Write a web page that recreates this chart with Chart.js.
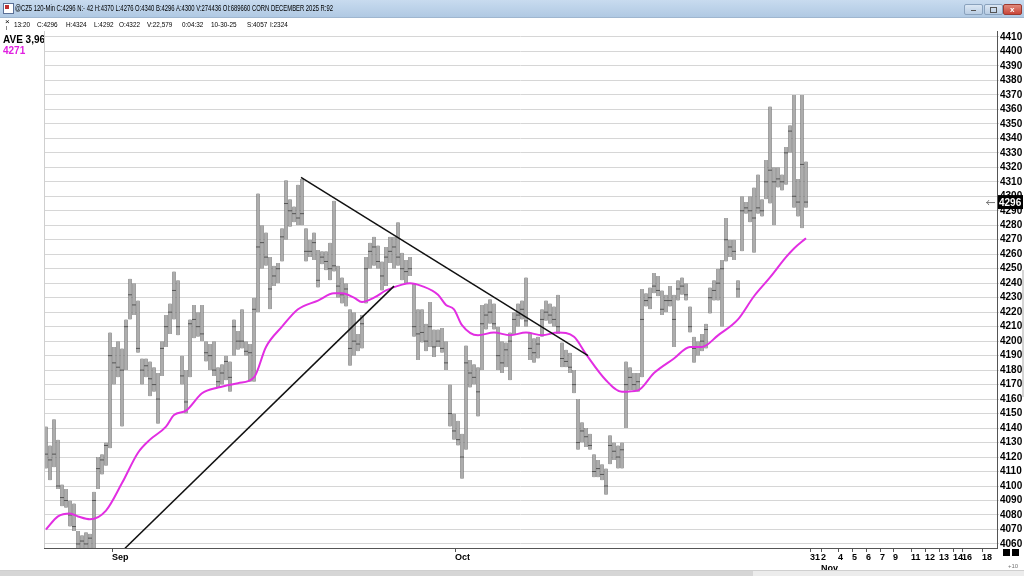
<!DOCTYPE html>
<html>
<head>
<meta charset="utf-8">
<script src="https://cdn.jsdelivr.net/npm/chart.js@4"></script>
<style>
  body { margin:0; width:1024px; height:576px; position:relative; overflow:hidden; background:#fff;
         font-family:"Liberation Sans", Arial, sans-serif; }
  #chart { position:absolute; left:0; top:0; }
  .abs { position:absolute; white-space:pre; }
  #titlebar { left:0; top:0; width:1024px; height:17px; background:linear-gradient(#c8dbef,#b0c9e3); border-bottom:1px solid #9fb6cf; }
  #titletext { left:15px; top:3px; font-size:8.5px; color:#000; transform-origin:left top; display:inline-block; }
  .btn { top:4px; width:17px; height:9px; border:1px solid #8aa2bd; border-radius:2px; background:linear-gradient(#dbe7f4,#b9cde3); }
  .info { top:20px; font-size:8px; color:#000; transform:scaleX(0.8); transform-origin:left top; }
  #leftpanel { left:3px; top:34px; font-weight:bold; font-size:10px; line-height:11px; }
</style>
</head>
<body>
<canvas id="chart" width="1024" height="576"></canvas>

<div id="titlebar" class="abs">
  <div class="abs" style="left:3px;top:3px;width:9px;height:9px;background:#fff;border:1px solid #5a6f96;"></div>
  <div class="abs" style="left:5px;top:5px;width:4px;height:4px;background:#c03030;"></div>
  <span id="titletext" class="abs">@CZ5 120-Min C:4296 N:- 42 H:4370 L:4276 O:4340 B:4296 A:4300 V:274436 OI:689660 CORN DECEMBER 2025 R:92</span>
  <div class="abs btn" style="left:964px;"><div class="abs" style="left:6px;top:5px;width:5px;height:1px;background:#555;"></div></div>
  <div class="abs btn" style="left:984px;"><div class="abs" style="left:5px;top:2px;width:5px;height:4px;border:1px solid #555;"></div></div>
  <div class="abs btn" style="left:1003px;background:linear-gradient(#e08a7c,#c9463a);border-color:#9c3a30;"><div class="abs" style="left:6px;top:0px;font-size:8px;color:#fff;font-weight:bold;">x</div></div>
</div>

<div class="abs" style="left:5px;top:17px;font-size:8px;">×</div>
<div class="abs" style="left:6px;top:26px;width:1px;height:4px;background:#888;"></div>
<div class="abs info" style="left:14px;">13:20</div>
<div class="abs info" style="left:37px;">C:4296</div>
<div class="abs info" style="left:66px;">H:4324</div>
<div class="abs info" style="left:94px;">L:4292</div>
<div class="abs info" style="left:119px;">O:4322</div>
<div class="abs info" style="left:147px;">V:22,579</div>
<div class="abs info" style="left:182px;">0:04:32</div>
<div class="abs info" style="left:211px;">10-30-25</div>
<div class="abs info" style="left:247px;">S:4057</div>
<div class="abs info" style="left:270px;">I:2324</div>

<div id="leftpanel" class="abs"><span style="color:#000">AVE 3,96</span>
<span style="color:#e020e0">4271</span></div>

<div class="abs" style="left:44px;top:31px;width:1px;height:517px;background:#cfcfcf;"></div>
<div class="abs" style="left:1022px;top:270px;width:2px;height:127px;background:#d4d4d4;"></div>
<div class="abs" style="left:1003px;top:549px;width:7px;height:7px;background:#000;"></div>
<div class="abs" style="left:1012px;top:549px;width:7px;height:7px;background:#000;"></div>
<div class="abs" style="left:1008px;top:563px;font-size:6px;color:#777;">+10</div>
<div class="abs" style="left:0;top:570px;width:1024px;height:6px;background:#ececec;border-top:1px solid #cfcfcf;"></div>
<div class="abs" style="left:0;top:571px;width:753px;height:5px;background:#d6d6d6;"></div>

<script>
// ==== Data (120-min bars, CZ5) ====
const highs = [4141,4128,4146,4132,4101,4098,4090,4088,4069,4066,
  4068,4067,4096,4120,4122,4130,4206,4196,4200,4195,
  4215,4243,4240,4228,4188,4188,4186,4182,4178,4200,
  4218,4226,4248,4242,4190,4180,4215,4225,4220,4225,
  4200,4198,4200,4182,4184,4190,4186,4215,4207,4222,
  4200,4198,4230,4302,4280,4275,4258,4252,4254,4278,
  4311,4298,4293,4308,4312,4278,4270,4275,4263,4262,
  4262,4268,4297,4252,4244,4240,4222,4220,4205,4218,
  4258,4268,4272,4266,4255,4265,4272,4272,4282,4261,
  4256,4258,4240,4222,4222,4212,4227,4208,4208,4209,
  4200,4170,4150,4145,4136,4197,4187,4184,4182,4225,
  4226,4229,4226,4210,4200,4199,4206,4220,4226,4228,
  4244,4206,4202,4203,4222,4228,4226,4224,4232,4199,
  4194,4192,4180,4160,4144,4140,4136,4122,4118,4115,
  4112,4135,4130,4128,4130,4186,4182,4178,4178,4236,
  4233,4237,4247,4245,4235,4232,4238,4232,4242,4244,
  4240,4224,4203,4200,4205,4212,4237,4242,4250,4256,
  4285,4270,4270,4242,4300,4296,4300,4306,4315,4298,
  4325,4362,4320,4320,4315,4334,4349,4370,4312,4370,
  4324];
const lows = [4112,4104,4113,4098,4086,4085,4072,4069,4055,4055,
  4055,4055,4056,4098,4108,4114,4126,4170,4175,4141,
  4180,4215,4218,4192,4170,4175,4162,4165,4143,4176,
  4196,4205,4215,4204,4170,4150,4175,4202,4203,4200,
  4186,4180,4176,4168,4170,4173,4165,4190,4194,4195,
  4190,4172,4172,4220,4250,4252,4222,4238,4240,4255,
  4270,4279,4282,4280,4280,4255,4258,4256,4237,4253,
  4249,4242,4248,4230,4226,4224,4183,4190,4193,4195,
  4226,4250,4252,4250,4235,4238,4254,4250,4252,4242,
  4240,4245,4203,4187,4199,4193,4196,4189,4196,4192,
  4180,4141,4132,4128,4105,4125,4168,4170,4148,4180,
  4208,4212,4208,4180,4178,4182,4173,4205,4210,4215,
  4210,4187,4185,4188,4203,4214,4212,4210,4205,4182,
  4182,4178,4164,4125,4130,4127,4125,4106,4106,4104,
  4094,4115,4118,4112,4112,4140,4166,4166,4165,4175,
  4224,4222,4233,4231,4218,4220,4224,4196,4228,4232,
  4228,4206,4185,4190,4193,4195,4219,4228,4228,4210,
  4255,4258,4256,4230,4262,4288,4282,4261,4288,4286,
  4298,4295,4280,4306,4304,4308,4330,4292,4286,4278,
  4292];
const closes = [4122,4118,4122,4100,4092,4090,4080,4072,4060,4062,
  4060,4064,4090,4112,4118,4128,4190,4185,4182,4180,
  4210,4232,4225,4195,4180,4183,4174,4170,4160,4195,
  4210,4220,4235,4210,4176,4158,4212,4215,4210,4205,
  4192,4190,4180,4172,4178,4186,4175,4210,4200,4200,
  4193,4192,4222,4265,4268,4258,4236,4245,4250,4272,
  4295,4290,4288,4285,4288,4262,4262,4268,4242,4258,
  4255,4250,4252,4238,4232,4236,4195,4200,4198,4212,
  4250,4262,4265,4255,4245,4258,4262,4265,4258,4250,
  4248,4250,4210,4205,4206,4200,4210,4196,4200,4195,
  4185,4150,4138,4132,4120,4185,4178,4175,4165,4212,
  4218,4220,4212,4190,4185,4194,4200,4215,4218,4222,
  4214,4195,4192,4198,4215,4220,4218,4215,4210,4188,
  4186,4182,4170,4130,4138,4134,4128,4110,4112,4108,
  4100,4128,4124,4120,4125,4170,4175,4170,4172,4215,
  4228,4230,4238,4235,4222,4228,4228,4215,4236,4238,
  4232,4210,4195,4196,4200,4208,4230,4235,4240,4250,
  4270,4265,4262,4236,4290,4292,4290,4285,4292,4290,
  4310,4318,4310,4312,4310,4330,4345,4300,4296,4322,
  4296];

// moving average (AVE), read at selected bars
const maBars = [0,3,6,8,11,15,19,23,26,30,32,35,39,43,48,52,55,59,63,68,72,74,77,79,82,85,89,91,94,98,
  100,102,104,108,112,116,120,124,128,132,135,140,144,148,152,157,161,164,168,173,177,181,185,187,190];
const maValues = [4070,4079,4081,4079,4077,4083,4102,4123,4132,4141,4149,4152,4164,4168,4171,4175,4196,4210,4222,4228,
  4233,4233,4230,4227,4230,4235,4239,4240,4238,4232,4225,4222,4211,4204,4206,4204,4206,4204,4206,4203,
  4191,4173,4165,4166,4178,4188,4196,4196,4204,4215,4231,4244,4258,4264,4271];

// trend lines: [bar, price] pairs
const downTrendBars = [63.75, 135.5];
const downTrendPrices = [4313, 4190];
const upTrendBars = [19.75, 87];
const upTrendPrices = [4057, 4238];

// axes
const xTickBars = [16.5, 102.25, 191, 193.75, 198, 201.5, 205, 208.5, 211.75, 216.25, 219.75, 223.25, 226.75, 229, 234];
const xTickLabels = ['Sep','Oct','31',['2','Nov'],'4','5','6','7','9','11','12','13','14','16','18'];
const yTickValues = [];
for (let v = 4060; v <= 4410; v += 10) yTickValues.push(v);
const slots = 238.25;
const lastPrice = closes[closes.length - 1];

// ==== Chart ====
const barData = highs.map((h, i) => ({ x: i + 0.5, y: [lows[i], h] }));
const closeData = closes.map((c, i) => ({ x: i + 0.5, y: c }));
const maData = maBars.map((b, i) => ({ x: b + 0.5, y: maValues[i] }));

const priceBox = {
  id: 'priceBox',
  afterDraw(chart) {
    const c = chart.ctx, a = chart.chartArea;
    const y = chart.scales.y.getPixelForValue(lastPrice);
    c.save();
    c.strokeStyle = '#777'; c.lineWidth = 1;
    c.beginPath(); c.moveTo(a.right - 11, y + 0.5); c.lineTo(a.right - 2, y + 0.5); c.stroke();
    c.beginPath(); c.moveTo(a.right - 8, y - 2); c.lineTo(a.right - 10, y + 0.5); c.lineTo(a.right - 8, y + 3); c.stroke();
    c.fillStyle = '#000';
    c.fillRect(a.right + 1, y - 7, 25, 14);
    c.fillStyle = '#fff';
    c.font = 'bold 10px "Liberation Sans", Arial';
    c.textBaseline = 'middle';
    c.fillText(String(lastPrice), a.right + 2, y + 1);
    c.restore();
  }
};

new Chart(document.getElementById('chart'), {
  type: 'bar',
  data: {
    datasets: [
      { type: 'line', data: downTrendBars.map((b, i) => ({ x: b + 0.5, y: downTrendPrices[i] })),
        borderColor: '#111', borderWidth: 1.5, pointRadius: 0, order: 0 },
      { type: 'line', data: upTrendBars.map((b, i) => ({ x: b + 0.5, y: upTrendPrices[i] })),
        borderColor: '#111', borderWidth: 1.5, pointRadius: 0, order: 0 },
      { type: 'line', data: maData, borderColor: '#e22ee2', borderWidth: 2, pointRadius: 0,
        cubicInterpolationMode: 'monotone', order: 1 },
      { type: 'line', data: closeData, showLine: false, pointStyle: 'line', pointRadius: 2,
        borderColor: '#555', borderWidth: 1, order: 2 },
      { type: 'bar', data: barData, barThickness: 3, backgroundColor: '#b4b4b4', borderColor: '#777',
        borderWidth: { left: 1, right: 1, top: 0, bottom: 0 }, borderSkipped: false, grouped: false, order: 3 }
    ]
  },
  options: {
    responsive: false,
    animation: false,
    events: [],
    layout: { padding: { left: 44, top: 31, right: 0, bottom: 0 } },
    plugins: { legend: { display: false }, tooltip: { enabled: false } },
    scales: {
      x: {
        type: 'linear', min: 0, max: slots, offset: false,
        afterBuildTicks: s => { s.ticks = xTickBars.map(v => ({ value: v + 0.5 })); },
        afterFit: s => { s.height = 28; },
        grid: { drawOnChartArea: false, offset: false, tickLength: 4, color: '#555' },
        border: { color: '#555', width: 1 },
        ticks: { autoSkip: false, maxRotation: 0, align: 'start', padding: 0, color: '#000',
                 font: { size: 9, weight: 'bold', family: '"Liberation Sans", Arial' }, lineHeight: 1.1,
                 callback: (v, i) => xTickLabels[i] }
      },
      y: {
        position: 'right', min: 4057.2, max: 4414.1,
        afterBuildTicks: s => { s.ticks = yTickValues.map(v => ({ value: v })); },
        afterFit: s => { s.width = 27; },
        grid: { color: '#d6d6d6', tickLength: 2 },
        border: { color: '#555', width: 1 },
        ticks: { autoSkip: false, padding: 1, color: '#000',
                 font: { size: 10, weight: 'bold', family: '"Liberation Sans", Arial' },
                 callback: v => String(v) }
      }
    }
  },
  plugins: [priceBox]
});

// squeeze the title line to its width in the window caption
const tt = document.getElementById('titletext');
tt.style.transform = 'scaleX(' + (318 / tt.getBoundingClientRect().width) + ')';
</script>
</body>
</html>
